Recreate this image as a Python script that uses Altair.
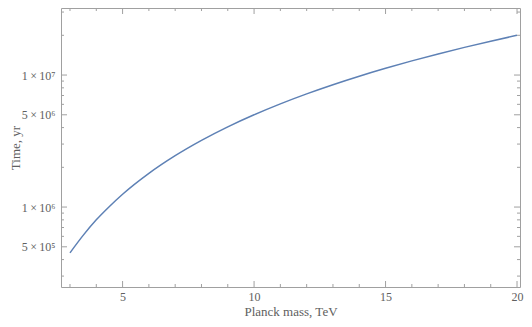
import altair as alt
import pandas as pd

# Values
mass = [3, 3.5, 4, 4.5, 5, 6, 7, 8, 9, 10, 11, 12, 13, 14, 15, 16, 17, 18, 19, 20]
time_yr = [4.5e5, 6.1e5, 8.0e5, 1.01e6, 1.25e6, 1.8e6, 2.45e6, 3.2e6, 4.05e6, 5.0e6,
           6.05e6, 7.2e6, 8.45e6, 9.8e6, 1.125e7, 1.28e7, 1.445e7, 1.62e7, 1.805e7, 2.0e7]

x_major = [5, 10, 15, 20]
x_minor = [3, 4, 6, 7, 8, 9, 11, 12, 13, 14, 16, 17, 18, 19]
y_major = [5e5, 1e6, 5e6, 1e7]
y_minor = [3e5, 4e5, 6e5, 7e5, 8e5, 9e5, 2e6, 3e6, 4e6, 6e6, 7e6, 8e6, 9e6, 2e7, 3e7]
y_labels = {5e5: "5\u2009×\u200910⁵", 1e6: "1\u2009×\u200910⁶",
            5e6: "5\u2009×\u200910⁶", 1e7: "1\u2009×\u200910⁷"}

W, H = 459, 279
X_DOM = [2.658, 20.113]
Y_DOM = [2.48e5, 3.22e7]
FRAME = "#a0a0a0"
TXT = "#606060"
FONT = "Liberation Serif"

xs = alt.Scale(domain=X_DOM, nice=False, zero=False)
ys = alt.Scale(type="log", domain=Y_DOM, nice=False)

df = pd.DataFrame({"mass": mass, "time": time_yr})

label_expr = " : ".join(
    [f"datum.value == {v} ? '{s}'" for v, s in y_labels.items()]) + " : ''"

line = alt.Chart(df).mark_line(color="#5E81B5", strokeWidth=1.5,
                               interpolate="monotone").encode(
    x=alt.X("mass:Q", scale=xs,
            axis=alt.Axis(values=x_major, title="Planck mass, TeV", ticks=False,
                          domain=False, grid=False, labelPadding=4, titlePadding=3,
                          format="d")),
    y=alt.Y("time:Q", scale=ys,
            axis=alt.Axis(values=y_major, title="Time, yr", ticks=False,
                          domain=False, grid=False, labelPadding=6,
                          labelExpr=label_expr, titleX=-46, titleBaseline="middle")),
)

def xticks(vals, length):
    d = pd.DataFrame({"mass": vals})
    bot = alt.Chart(d).mark_rule(color=FRAME, strokeWidth=1).encode(
        x=alt.X("mass:Q", scale=xs), y=alt.value(H), y2=alt.value(H - length))
    top = alt.Chart(d).mark_rule(color=FRAME, strokeWidth=1).encode(
        x=alt.X("mass:Q", scale=xs), y=alt.value(0), y2=alt.value(length))
    return [bot, top]

def yticks(vals, length):
    d = pd.DataFrame({"time": vals})
    left = alt.Chart(d).mark_rule(color=FRAME, strokeWidth=1).encode(
        y=alt.Y("time:Q", scale=ys), x=alt.value(0), x2=alt.value(length))
    right = alt.Chart(d).mark_rule(color=FRAME, strokeWidth=1).encode(
        y=alt.Y("time:Q", scale=ys), x=alt.value(W), x2=alt.value(W - length))
    return [left, right]

layers = [line] + xticks(x_major, 6) + xticks(x_minor, 3) + yticks(y_major, 6) + yticks(y_minor, 3)

chart = alt.layer(*layers).properties(
    width=W, height=H,
    autosize=alt.AutoSizeParams(type="none"),
    padding={"left": 53, "top": 0, "right": 4, "bottom": 32},
).configure_view(
    stroke=FRAME, strokeWidth=1
).configure_axis(
    labelFont=FONT, titleFont=FONT, labelColor=TXT, titleColor=TXT,
    labelFontSize=12, titleFontSize=13, titleFontWeight="normal",
)

chart.save("out.html", embed_options={"renderer": "svg", "actions": False})
